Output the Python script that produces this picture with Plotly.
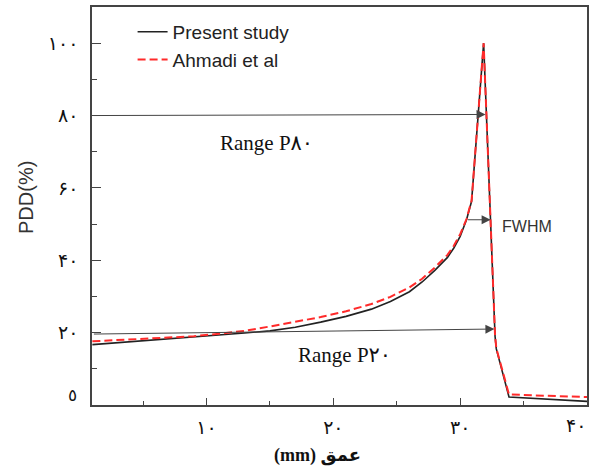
import plotly.graph_objects as go

# ---- data ----
depth = [1, 3, 5, 7, 9, 11, 13, 15, 17, 19, 21, 23, 24.5, 26, 27, 28, 29, 29.5, 30,
         30.5, 30.9, 31.85, 32.75, 32.85, 33.85, 40]
present_study = [16.7, 17.2, 17.7, 18.2, 18.7, 19.3, 19.9, 20.5, 21.5, 22.9, 24.5, 26.5,
                 28.6, 31.3, 34.0, 37.2, 40.8, 43.4, 46.6, 51.2, 56.3, 100, 19.0, 15.5, 2.2, 1.0]
ahmadi = [17.6, 17.9, 18.3, 18.6, 19.0, 19.7, 20.5, 21.7, 22.9, 24.3, 25.9, 27.9,
          29.9, 32.5, 34.9, 38.0, 41.5, 44.0, 47.2, 51.4, 56.5, 100, 19.2, 15.7, 2.9, 2.2]

series_names = ["Present study", "Ahmadi et al"]

x_tickvals = [10, 20, 30, 40]
x_ticktext = ["۱۰", "۲۰", "۳۰", ""]
x_last_label = "۴۰"          # drawn separately so it stays inside the page edge
y_tickvals = [20, 40, 60, 80, 100]
y_ticktext = ["۲۰", "۴۰", "۶۰", "۸۰", "۱۰۰"]
y_zero_label = "٥"

# arrows: (start_x, start_y, end_x, end_y)
arrow_p80 = (1, 80, 32.0, 80.3)
arrow_fwhm = (30.5, 51.2, 32.4, 51.2)
arrow_p20 = (1, 19.6, 32.7, 21.0)

x_title = "(mm) عمق"
y_title = "PDD(%)"

SERIF = "Times New Roman, Liberation Serif, DejaVu Sans, serif"
SANS = "Arial, Liberation Sans, Helvetica, sans-serif"

fig = go.Figure()
fig.add_trace(go.Scatter(x=depth, y=present_study, mode="lines", name=series_names[0],
                         line=dict(color="#222222", width=1.6)))
fig.add_trace(go.Scatter(x=depth, y=ahmadi, mode="lines", name=series_names[1],
                         line=dict(color="#ff2a2a", width=2, dash="8px,4px")))

annotations = []
for (sx, sy, ex, ey) in [arrow_p80, arrow_fwhm, arrow_p20]:
    annotations.append(dict(x=ex, y=ey, ax=sx, ay=sy, xref="x", yref="y", axref="x", ayref="y",
                            text="", showarrow=True, arrowhead=2, arrowsize=1.8,
                            arrowwidth=1, arrowcolor="#444444", standoff=0))

annotations += [
    dict(x=14.7, y=72.5, xref="x", yref="y", text="Range P۸۰", showarrow=False,
         font=dict(family=SERIF, size=21, color="#111111")),
    dict(x=20.9, y=13.8, xref="x", yref="y", text="Range P۲۰", showarrow=False,
         font=dict(family=SERIF, size=21, color="#111111")),
    dict(x=35.3, y=49.4, xref="x", yref="y", text="FWHM", showarrow=False,
         font=dict(family=SANS, size=16, color="#333333")),
    dict(x=-0.053, y=2.6, xref="paper", yref="y", text=y_zero_label, showarrow=False,
         font=dict(family=SERIF, size=17, color="#111111")),
    dict(x=(588 - 92) / 495, y=(405 - 425) / 398, xref="paper", yref="paper", text=x_last_label,
         showarrow=False, xanchor="right", yanchor="middle",
         font=dict(family=SERIF, size=19, color="#111111")),
    dict(x=(317 - 92) / 495, y=(405 - 455) / 398, xref="paper", yref="paper", text="<b>" + x_title + "</b>",
         showarrow=False, xanchor="center", yanchor="middle",
         font=dict(family=SERIF, size=18, color="#111111")),
    dict(x=(26 - 92) / 495, y=(405 - 198) / 398, xref="paper", yref="paper", text=y_title,
         showarrow=False, textangle=-90, xanchor="center", yanchor="middle",
         font=dict(family=SANS, size=20, color="#333333")),
]

axis_common = dict(showgrid=False, zeroline=False, showline=True, linecolor="#444444",
                   linewidth=1.6, mirror=True, ticks="inside", tickcolor="#444444",
                   tickwidth=1.2, automargin=False)

fig.update_layout(
    width=589, height=466,
    margin=dict(l=92, r=2, t=7, b=61, autoexpand=False),
    paper_bgcolor="white", plot_bgcolor="white",
    showlegend=True,
    legend=dict(x=0.082, y=0.985, xanchor="left", yanchor="top",
                bgcolor="rgba(0,0,0,0)", font=dict(family=SANS, size=19, color="#222222"),
                tracegroupgap=0, itemwidth=30),
    annotations=annotations,
    xaxis=dict(range=[0.97, 40.0], tickvals=x_tickvals, ticktext=x_ticktext, ticklen=7,
               ticklabelstandoff=4,
               minor=dict(tickvals=[5, 15, 25, 35], ticks="inside", ticklen=4, tickcolor="#444444"),
               tickfont=dict(family=SERIF, size=19, color="#111111"), **axis_common),
    yaxis=dict(range=[0, 110], tickvals=y_tickvals, ticktext=y_ticktext, ticklen=9,
               ticklabelstandoff=8,
               minor=dict(tickvals=[10, 30, 50, 70, 90], ticks="inside", ticklen=5, tickcolor="#444444"),
               tickfont=dict(family=SERIF, size=19, color="#111111"), **axis_common),
)

fig.write_html("out.html")
